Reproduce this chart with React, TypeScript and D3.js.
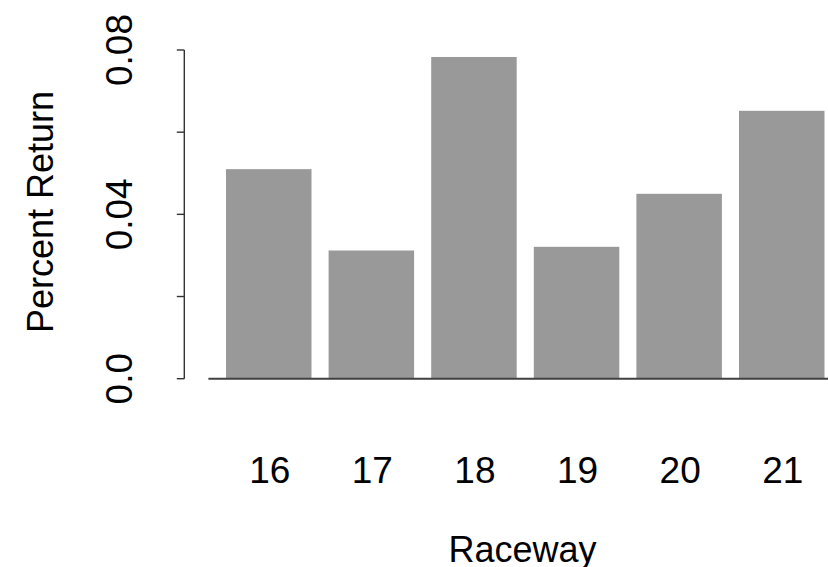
import React from "react";
import * as d3 from "d3";

const categories = ["16", "17", "18", "19", "20", "21"];
const values = [0.0510, 0.0312, 0.0783, 0.0321, 0.0450, 0.0652];
const yTicks = [0, 0.02, 0.04, 0.06, 0.08];
const yTickLabels = ["0.0", "", "0.04", "", "0.08"];

const W = 828;
const H = 567;
const FONT = "'Liberation Sans', Arial, Helvetica, sans-serif";

export default function App() {
  const y = d3.scaleLinear().domain([0, 0.08]).range([378.7, 50]);
  // R barplot units: width 1, space 0.2
  const x = d3.scaleLinear().domain([0, 1]).range([208.9, 208.9 + 85.5]);
  const axisX = 184.3;
  const barLeft = (i: number) => x(0.2 + i * 1.2);
  const barRight = (i: number) => x(1.2 + i * 1.2);

  return (
    <svg
      width={W}
      height={H}
      style={{ position: "absolute", left: 0, top: 0, background: "#fff" }}
      fontFamily={FONT}
    >
      {/* bars */}
      {values.map((v, i) => (
        <rect
          key={i}
          x={barLeft(i)}
          y={y(v)}
          width={barRight(i) - barLeft(i)}
          height={y(0) - y(v)}
          fill="#999999"
        />
      ))}
      {/* baseline */}
      <line x1={x(0) - 0.5} x2={W} y1={y(0)} y2={y(0)} stroke="#404040" strokeWidth={2} />
      {/* y axis */}
      <line x1={axisX} x2={axisX} y1={y(0)} y2={y(0.08)} stroke="#333" strokeWidth={1.4} />
      {yTicks.map((t, i) => (
        <g key={i}>
          <line x1={axisX - 7.5} x2={axisX} y1={y(t)} y2={y(t)} stroke="#333" strokeWidth={1.4} />
          {yTickLabels[i] && (
            <text
              transform={`translate(131.5, ${y(t)}) rotate(-90)`}
              textAnchor="middle"
              fontSize={37}
              fill="#000"
            >
              {yTickLabels[i]}
            </text>
          )}
        </g>
      ))}
      {/* x labels */}
      {categories.map((c, i) => (
        <text
          key={c}
          x={(barLeft(i) + barRight(i)) / 2 + 1}
          y={482.7}
          textAnchor="middle"
          fontSize={37}
          fill="#000"
        >
          {c}
        </text>
      ))}
      {/* axis titles */}
      <text x={522.5} y={561.7} textAnchor="middle" fontSize={36} fill="#000">
        Raceway
      </text>
      <text
        transform={`translate(53, 212) rotate(-90)`}
        textAnchor="middle"
        fontSize={36}
        fill="#000"
      >
        Percent Return
      </text>
    </svg>
  );
}
